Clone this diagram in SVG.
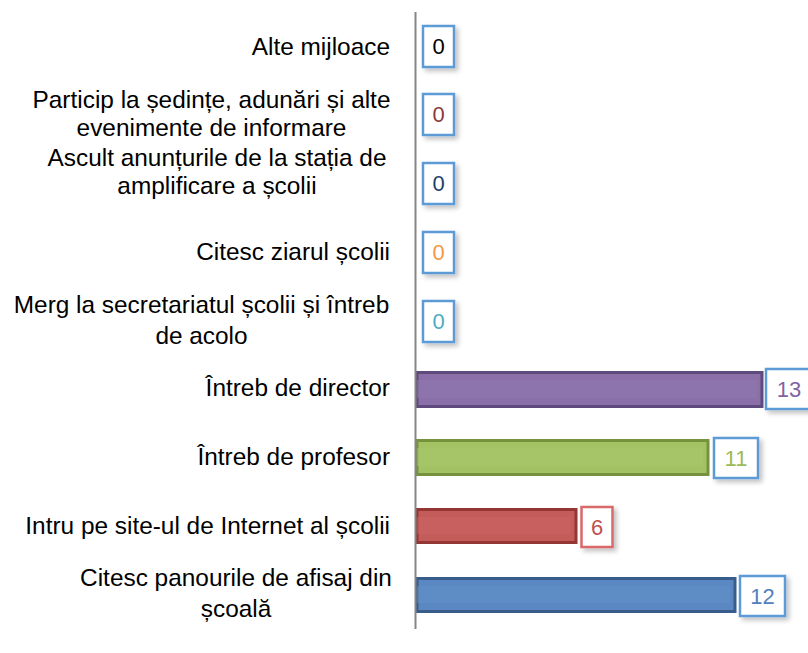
<svg xmlns="http://www.w3.org/2000/svg" width="808" height="653" viewBox="0 0 808 653">
<style>
.lbl{font-family:"Liberation Sans",Arial,sans-serif;font-size:24.4px;fill:#000;text-anchor:end}
.lbc{font-family:"Liberation Sans",Arial,sans-serif;font-size:24.4px;fill:#000;text-anchor:middle}
.val{font-family:"Liberation Sans",Arial,sans-serif;font-size:22px;text-anchor:middle}
.box{fill:#fff;stroke:#5B9BD5;stroke-width:2.5}
.boxr{fill:#fff;stroke:#D9696A;stroke-width:2.5}
</style>
<defs>
<filter id="sh" x="-30%" y="-30%" width="170%" height="170%">
<feGaussianBlur in="SourceAlpha" stdDeviation="2.5"/>
<feOffset dx="3" dy="3" result="b"/>
<feComponentTransfer><feFuncA type="linear" slope="0.25"/></feComponentTransfer>
<feMerge><feMergeNode/><feMergeNode in="SourceGraphic"/></feMerge>
</filter>
</defs>
<rect width="808" height="653" fill="#fff"/>
<g id="labels">
<text class="lbl" x="390" y="55">Alte mijloace</text>
<text class="lbc"><tspan x="211.5" y="108">Particip la ședințe, adunări și alte</tspan><tspan x="211.5" y="136">evenimente de informare</tspan></text>
<text class="lbc"><tspan x="217" y="166">Ascult anunțurile de la stația de</tspan><tspan x="217" y="194">amplificare a școlii</tspan></text>
<text class="lbl" x="390" y="260">Citesc ziarul școlii</text>
<text class="lbc"><tspan x="201.5" y="313">Merg la secretariatul școlii și întreb</tspan><tspan x="201.5" y="344">de acolo</tspan></text>
<text class="lbl" x="390" y="396">Întreb de director</text>
<text class="lbl" x="390" y="465">Întreb de profesor</text>
<text class="lbl" x="390" y="534">Intru pe site-ul de Internet al școlii</text>
<text class="lbc"><tspan x="236" y="586">Citesc panourile de afisaj din</tspan><tspan x="236" y="617">școală</tspan></text>
</g>
<g id="bars">
<rect x="417" y="372.5" width="345" height="34" fill="#8A6FA8" stroke="#5E4A7D" stroke-width="3"/>
<rect x="417" y="380" width="340" height="18" fill="#9079AF" opacity="0.5"/>
<rect x="417" y="440.5" width="291" height="34" fill="#A3C264" stroke="#76923C" stroke-width="3"/>
<rect x="417" y="448" width="286" height="18" fill="#A9C86C" opacity="0.5"/>
<rect x="417" y="509.5" width="159" height="33" fill="#C45C5A" stroke="#943634" stroke-width="3"/>
<rect x="417" y="517" width="154" height="17" fill="#C96462" opacity="0.5"/>
<rect x="417" y="578.5" width="318" height="33" fill="#5B88C2" stroke="#385D8A" stroke-width="3"/>
<rect x="417" y="586" width="313" height="17" fill="#6290C8" opacity="0.5"/>
</g>
<g id="axis">
<line x1="415.5" y1="12" x2="415.5" y2="629" stroke="#868686" stroke-width="2"/>
</g>
<g id="values">
<g filter="url(#sh)">
<rect class="box" x="423" y="26" width="31" height="41"/>
<rect class="box" x="423" y="94" width="31" height="41"/>
<rect class="box" x="423" y="163" width="31" height="41"/>
<rect class="box" x="423" y="232" width="31" height="41"/>
<rect class="box" x="423" y="301" width="31" height="41"/>
<rect class="box" x="766" y="369" width="50" height="40"/>
<rect class="box" x="714" y="438" width="44" height="40"/>
<rect class="boxr" x="581.5" y="507" width="31" height="40"/>
<rect class="box" x="740" y="576" width="45" height="40"/>
</g>
<text class="val" x="438.5" y="54" fill="#000">0</text>
<text class="val" x="438.5" y="122" fill="#8B3A3A">0</text>
<text class="val" x="438.5" y="191" fill="#1F3F6B">0</text>
<text class="val" x="438.5" y="260" fill="#F79646">0</text>
<text class="val" x="438.5" y="329" fill="#4BACC6">0</text>
<text class="val" x="789" y="397" fill="#8064A2">13</text>
<text class="val" x="736" y="466" fill="#9BBB59">11</text>
<text class="val" x="597" y="535" fill="#C0504D">6</text>
<text class="val" x="762.5" y="604" fill="#4F81BD">12</text>
</g>
</svg>
